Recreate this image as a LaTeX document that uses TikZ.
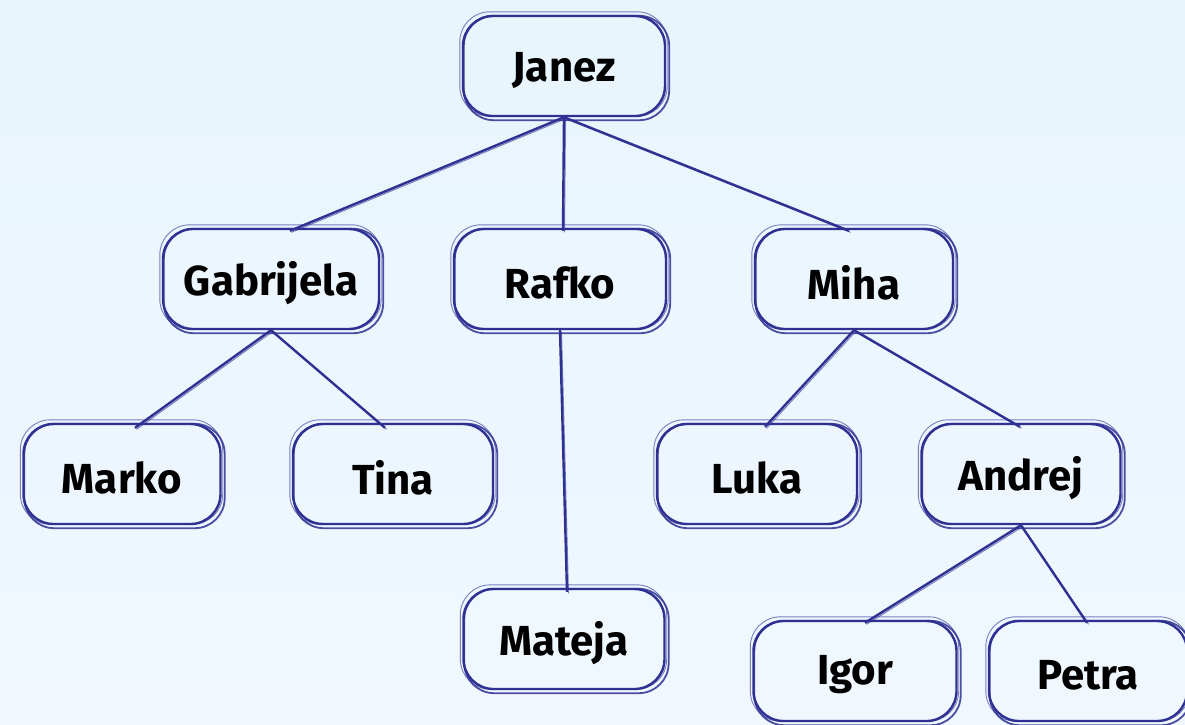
\documentclass[tikz,border=0pt]{standalone}
\usepackage{fontspec}
\setmainfont{Fira Sans}
\definecolor{sk}{HTML}{2E3192}
\definecolor{bgtop}{RGB}{232,245,253}
\definecolor{bgbot}{RGB}{240,247,255}
\tikzset{
  box/.style={draw=sk, line width=2.4pt, rounded corners=30pt, minimum width=#1, minimum height=100pt,
    font=\fontsize{42}{42}\selectfont\bfseries, text=black, inner sep=0pt},
  box/.default=200pt,
  skA/.style={draw=sk, line width=1.8pt, rounded corners=30pt, opacity=0.85},
  skB/.style={draw=sk, line width=0.9pt, rounded corners=30pt, opacity=0.6},
  link/.style={draw=sk, line width=2.4pt},
  linkB/.style={draw=sk, line width=1pt, opacity=0.6, transform canvas={xshift=1.5pt,yshift=-1.5pt}},
}
\newcommand\skbox[5]{%
  \node[box=#5] (#1) at (#2,#3) {\raisebox{-4pt}[\height][\depth]{#4}};
  \draw[skA] ([shift={(2,3)}]#1.south west) rectangle ([shift={(3,1)}]#1.north east);
  \draw[skB] ([shift={(-2,-1)}]#1.south west) rectangle ([shift={(1,-3)}]#1.north east);
}
\newcommand\sklink[2]{%
  \draw[link] #1 -- #2;
  \draw[linkB] #1 -- #2;
}
\begin{document}
\begin{tikzpicture}[x=1pt,y=-1pt]
\useasboundingbox (0,0) rectangle (1185,724);
\shade[top color=bgtop, bottom color=bgbot] (0,0) rectangle (1185,724);
\skbox{janez}{564}{66}{Janez}{202pt}
\skbox{gab}{271}{279}{Gabrijela}{216pt}
\skbox{rafko}{560}{279}{Rafko}{212pt}
\skbox{miha}{854}{279}{Miha}{198pt}
\skbox{marko}{122}{474}{Marko}{197pt}
\skbox{tina}{393}{474}{Tina}{200pt}
\skbox{luka}{757}{474}{Luka}{200pt}
\skbox{andrej}{1021}{474}{Andrej}{199pt}
\skbox{mateja}{564}{639}{Mateja}{201pt}
\skbox{igor}{855}{671}{Igor}{203pt}
\skbox{petra}{1088}{671}{Petra}{198pt}
\sklink{(janez.south)}{([xshift=19pt,yshift=-3pt]gab.north)}
\sklink{(janez.south)}{([xshift=3pt,yshift=-3pt]rafko.north)}
\sklink{(janez.south)}{([xshift=-5pt,yshift=-3pt]miha.north)}
\sklink{(gab.south)}{([xshift=13pt,yshift=-5pt]marko.north)}
\sklink{(gab.south)}{([xshift=-8pt,yshift=-5pt]tina.north)}
\sklink{(rafko.south)}{([xshift=3pt,yshift=-4pt]mateja.north)}
\sklink{(miha.south)}{([xshift=8pt,yshift=-4pt]luka.north)}
\sklink{(miha.south)}{([xshift=-1pt,yshift=-4pt]andrej.north)}
\sklink{(andrej.south)}{([xshift=10pt,yshift=-3pt]igor.north)}
\sklink{(andrej.south)}{([xshift=-1pt,yshift=-3pt]petra.north)}
\end{tikzpicture}
\end{document}
